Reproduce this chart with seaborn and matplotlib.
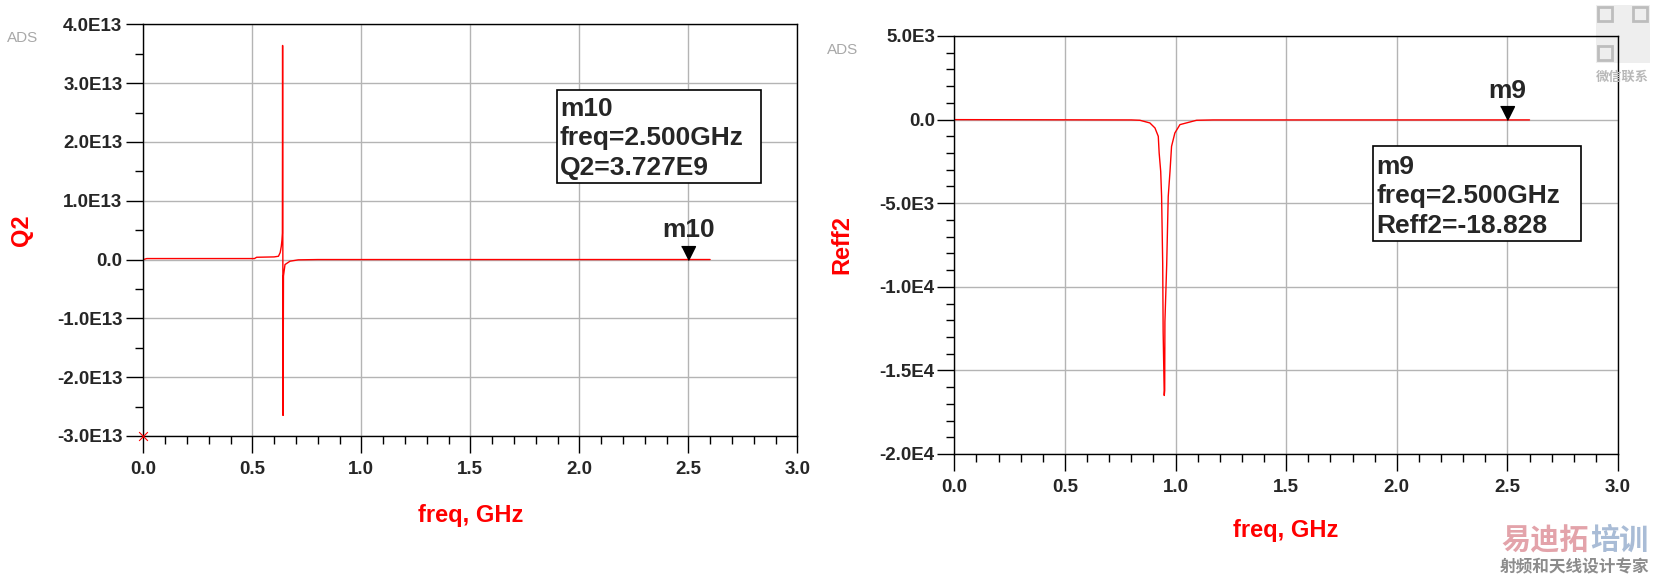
import numpy as np
import pandas as pd
import matplotlib
matplotlib.use("Agg")
import matplotlib.pyplot as plt
import seaborn as sns
from matplotlib.ticker import MultipleLocator, FuncFormatter
from matplotlib.patches import Rectangle

# ---- data ----
# left panel: Q2 vs freq (GHz)
q2_freq = [0.00, 0.016, 0.51, 0.52, 0.60, 0.62, 0.628, 0.633, 0.636, 0.638, 0.639,
           0.641, 0.643, 0.650, 0.673, 0.711, 0.80, 2.50, 2.60]
q2_vals = [0.0, 0.17e12, 0.17e12, 0.39e12, 0.45e12, 0.56e12, 1.2e12, 2.25e12, 3.3e12,
           4.5e12, 36.4e12, -26.5e12, -2.8e12, -0.85e12, -0.28e12, -0.05e12, 0.0,
           3.727e9, 3.7e9]
q2_offscale_freq = [0.0]  # point ADS flags as off-scale (drawn as x at the bottom)

# right panel: Reff2 vs freq (GHz)
reff_freq = [0.0, 0.80, 0.839, 0.884, 0.907, 0.922, 0.926, 0.933, 0.937, 0.942, 0.944,
             0.949, 0.951, 0.952, 0.960, 0.967, 0.975, 0.982, 0.997, 1.020, 1.095,
             1.17, 2.50, 2.60]
reff_vals = [-2, -20, -40, -200, -500, -1000, -2000, -3100, -4600, -8600, -12700,
             -16500, -16200, -12100, -8700, -4600, -3100, -1600, -800, -300, -40,
             -20, -18.828, -18]

# markers
m10_freq, m10_val = 2.5, 3.727e9
m9_freq, m9_val = 2.5, -18.828

q2_ylim = (-3e13, 4e13)
reff_ylim = (-2e4, 5e3)
freq_lim = (0.0, 3.0)

sns.set_style("white")
plt.rcParams["font.family"] = ["Liberation Sans", "Noto Sans CJK SC", "DejaVu Sans"]
plt.rcParams["font.weight"] = "bold"

W, H = 1660, 582
fig = plt.figure(figsize=(W / 100, H / 100), dpi=100)


def px_axes(left, top, right, bottom):
    return fig.add_axes([left / W, 1 - bottom / H, (right - left) / W, (bottom - top) / H])


def ads_fmt(v, pos):
    if abs(v) < 1e-9:
        return "0.0"
    e = int(np.floor(np.log10(abs(v)) + 1e-9))
    return f"{v / 10 ** e:.1f}E{e}"


RED = "#ff0000"
GRID = "#b4b4b4"


def style_axes(ax, ymajor, yminor, ylim, ypad, xpad):
    ax.set_xlim(*freq_lim)
    ax.set_ylim(*ylim)
    ax.xaxis.set_major_locator(MultipleLocator(0.5))
    ax.xaxis.set_minor_locator(MultipleLocator(0.1))
    ax.yaxis.set_major_locator(MultipleLocator(ymajor))
    ax.yaxis.set_minor_locator(MultipleLocator(yminor))
    ax.xaxis.set_major_formatter(FuncFormatter(lambda v, p: f"{v:.1f}"))
    ax.yaxis.set_major_formatter(FuncFormatter(ads_fmt))
    ax.grid(True, which="major", color=GRID, lw=1.0)
    ax.set_axisbelow(True)
    ax.patch.set_alpha(0)
    for s in ax.spines.values():
        s.set_color("black")
        s.set_linewidth(1.0)
    ax.tick_params(which="major", direction="out", length=12, width=1.0, color="black",
                   labelsize=13.5, left=True, bottom=True)
    ax.tick_params(which="minor", direction="out", length=6, width=1.0, color="black",
                   left=True, bottom=True)
    ax.tick_params(axis="y", which="major", pad=ypad)
    ax.tick_params(axis="x", which="major", pad=xpad)
    for lab in ax.get_xticklabels() + ax.get_yticklabels():
        lab.set_fontweight("bold")


down_tri = [(-1, 2), (1, 2), (0, 0)]


def marker(ax, x, y, name):
    ax.plot([x], [y], marker=down_tri, markersize=20, color="black", lw=0, clip_on=False)
    ax.annotate(name, xy=(x, y), xytext=(0, 16), textcoords="offset points",
                ha="center", va="baseline", fontsize=19, fontweight="bold")


def readout(x0, y0, x1, y1, tx, baselines, lines):
    fig.add_artist(Rectangle((x0 / W, 1 - y1 / H), (x1 - x0) / W, (y1 - y0) / H,
                             transform=fig.transFigure, fill=True, facecolor="white",
                             edgecolor="black", lw=1.2))
    for b, t in zip(baselines, lines):
        fig.text(tx / W, 1 - b / H, t, ha="left", va="baseline", fontsize=19,
                 fontweight="bold")


# ---- left panel ----
axL = px_axes(143.3, 24.3, 797.3, 436)
sns.lineplot(x=q2_freq, y=q2_vals, ax=axL, color=RED, lw=1.0, sort=False,
             estimator=None)
axL.scatter(q2_offscale_freq, [q2_ylim[0]] * len(q2_offscale_freq), marker="x",
            color=RED, s=40, lw=0.8, clip_on=False, zorder=5)
style_axes(axL, 1e13, 5e12, q2_ylim, ypad=3, xpad=6)
marker(axL, m10_freq, m10_val, "m10")
axL.set_xlabel("freq, GHz", color=RED, fontsize=17, fontweight="bold", va="center")
axL.set_ylabel("Q2", color=RED, fontsize=17, fontweight="bold", va="center")
axL.xaxis.set_label_coords(0.5, -0.193)
axL.yaxis.set_label_coords(-0.186, 0.5)

# ---- right panel ----
axR = px_axes(954.3, 36, 1618, 454)
sns.lineplot(x=reff_freq, y=reff_vals, ax=axR, color=RED, lw=1.0, sort=False,
             estimator=None)
style_axes(axR, 5e3, 1e3, reff_ylim, ypad=2, xpad=6)
marker(axR, m9_freq, m9_val, "m9")
axR.set_xlabel("freq, GHz", color=RED, fontsize=17, fontweight="bold", va="center")
axR.set_ylabel("Reff2", color=RED, fontsize=17, fontweight="bold", va="center")
axR.xaxis.set_label_coords(0.5, -0.182)
axR.yaxis.set_label_coords(-0.170, 0.5)

# marker readout boxes
readout(556.7, 89.7, 761.3, 183, 560, [116, 145, 175],
        ["m10", "freq=2.500GHz", f"Q2={m10_val:.3E}".replace("E+0", "E")])
readout(1373.3, 146.3, 1580.7, 241.3, 1376, [174.3, 202.7, 232.7],
        ["m9", "freq=2.500GHz", f"Reff2={m9_val:.3f}"])

# ADS tags
for x, y in [(7, 38), (827, 50)]:
    fig.text(x / W, 1 - y / H, "ADS", fontsize=11, color="#a8a8a8", ha="left",
             va="center", fontweight="normal")

# watermark, bottom right
fig.text(1501 / W, 1 - 540 / H, "易迪拓", fontsize=21, color="#e3a3aa", ha="left",
         va="center", family=["Noto Sans CJK SC"], fontweight="bold")
fig.text(1590 / W, 1 - 540 / H, "培训", fontsize=21, color="#a9bcd6", ha="left",
         va="center", family=["Noto Sans CJK SC"], fontweight="bold")
fig.text(1500 / W, 1 - 567 / H, "射频和天线设计专家", fontsize=12, color="#8c8c8c",
         ha="left", va="center", family=["Noto Sans CJK SC"])

# wechat tag, top right (faint QR block, behind the axes frame)
fig.add_artist(Rectangle((1596 / W, 1 - 63 / H), 54 / W, 58 / H,
                         transform=fig.transFigure, facecolor="#eeeeee",
                         edgecolor="none", zorder=-2))
for qx, qy in [(1598, 7), (1633, 7), (1598, 46)]:
    fig.add_artist(Rectangle((qx / W, 1 - (qy + 14) / H), 14 / W, 14 / H,
                             transform=fig.transFigure, facecolor="none",
                             edgecolor="#bdbdbd", lw=2, zorder=-1))
fig.text(1622 / W, 1 - 77 / H, "微信联系", fontsize=9.5, color="#b8b8b8", ha="center",
         va="center", family=["Noto Sans CJK SC"])

fig.savefig("out.png", dpi=100)
